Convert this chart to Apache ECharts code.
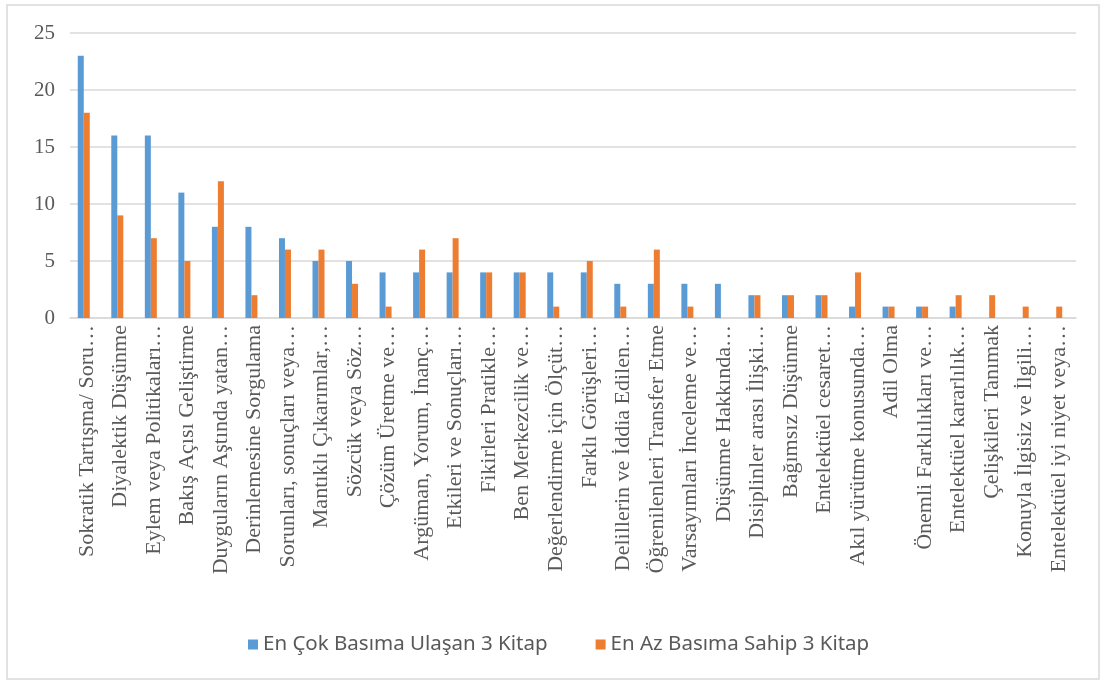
<!DOCTYPE html>
<html>
<head>
<meta charset="utf-8">
<script src="https://cdn.jsdelivr.net/npm/echarts@6/dist/echarts.min.js"></script>
<style>
    html, body { margin: 0; padding: 0; background: #fff; }
    #chart { width: 1105px; height: 684px; }
</style>
</head>
<body>
<div id="chart"></div>
<script>
// kategoriler (Excel'deki kısaltılmış etiketler)
const categories = [
    'Sokratik Tartışma/ Soru…', 'Diyalektik Düşünme', 'Eylem veya Politikaları…',
    'Bakış Açısı Geliştirme', 'Duyguların Aştında yatan…', 'Derinlemesine Sorgulama',
    'Sorunları, sonuçları veya…', 'Mantıklı Çıkarımlar,…', 'Sözcük veya Söz…',
    'Çözüm Üretme ve…', 'Argüman, Yorum, İnanç…', 'Etkileri ve Sonuçları…',
    'Fikirleri Pratikle…', 'Ben Merkezcilik ve…', 'Değerlendirme için Ölçüt…',
    'Farklı Görüşleri…', 'Delillerin ve İddia Edilen…', 'Öğrenilenleri Transfer Etme',
    'Varsayımları İnceleme ve…', 'Düşünme Hakkında…', 'Disiplinler arası İlişki…',
    'Bağımsız Düşünme', 'Entelektüel cesaret…', 'Akıl yürütme konusunda…',
    'Adil Olma', 'Önemli Farklılıkları ve…', 'Entelektüel kararlılık…',
    'Çelişkileri Tanımak', 'Konuyla İlgisiz ve İlgili…', 'Entelektüel iyi niyet veya…'
];
const enCok = [23, 16, 16, 11, 8, 8, 7, 5, 5, 4, 4, 4, 4, 4, 4, 4, 3, 3, 3, 3, 2, 2, 2, 1, 1, 1, 1, 0, 0, 0];
const enAz = [18, 9, 7, 5, 12, 2, 6, 6, 3, 1, 6, 7, 4, 4, 1, 5, 1, 6, 1, 0, 2, 2, 2, 4, 1, 1, 2, 2, 1, 1];
const seriesNames = ['En Çok Basıma Ulaşan 3 Kitap', 'En Az Basıma Sahip 3 Kitap'];

const myChart = echarts.init(document.getElementById('chart'));

const option = {
    animation: false,
    color: ['#5B9BD5', '#ED7D31', '#A5A5A5'],
    graphic: [{
        type: 'rect',
        shape: { x: 7, y: 5, width: 1092, height: 674 },
        style: { fill: 'none', stroke: '#d9d9d9', lineWidth: 1.5 },
        silent: true,
    }],
    legend: {
        data: seriesNames,
        bottom: 24,
        left: 243,
        icon: 'rect',
        itemWidth: 10,
        itemHeight: 10,
        itemGap: 48,
        textStyle: {
            fontFamily: 'Noto Sans',
            fontSize: 20.5,
            color: '#595959',
        },
    },
    grid: {
        left: 70,
        right: 29,
        top: 33,
        bottom: 366,
    },
    xAxis: {
        type: 'category',
        data: categories,
        axisLine: {
            lineStyle: { color: '#d9d9d9', width: 1.5 },
        },
        axisTick: { show: false },
        axisLabel: {
            interval: 0,
            rotate: 90,
            margin: 7,
            fontFamily: 'Liberation Serif',
            fontSize: 22,
            color: '#595959',
        },
    },
    yAxis: {
        type: 'value',
        min: 0,
        max: 25,
        interval: 5,
        axisLine: { show: false },
        axisTick: { show: false },
        axisLabel: {
            margin: 15,
            fontFamily: 'Liberation Serif',
            fontSize: 21,
            color: '#595959',
        },
        splitLine: {
            lineStyle: { color: '#d9d9d9', width: 1.5 },
        },
    },
    series: [
        {
            name: seriesNames[0],
            type: 'bar',
            barWidth: 6,
            barGap: '0%',
            data: enCok,
        },
        {
            name: seriesNames[1],
            type: 'bar',
            barWidth: 6,
            barGap: '0%',
            data: enAz,
        },
        {
            // boş üçüncü seri, gruptaki yeri korumak için
            name: 'bos',
            type: 'bar',
            barWidth: 6,
            barGap: '0%',
            data: [],
        },
    ],
};

myChart.setOption(option);
</script>
</body>
</html>
